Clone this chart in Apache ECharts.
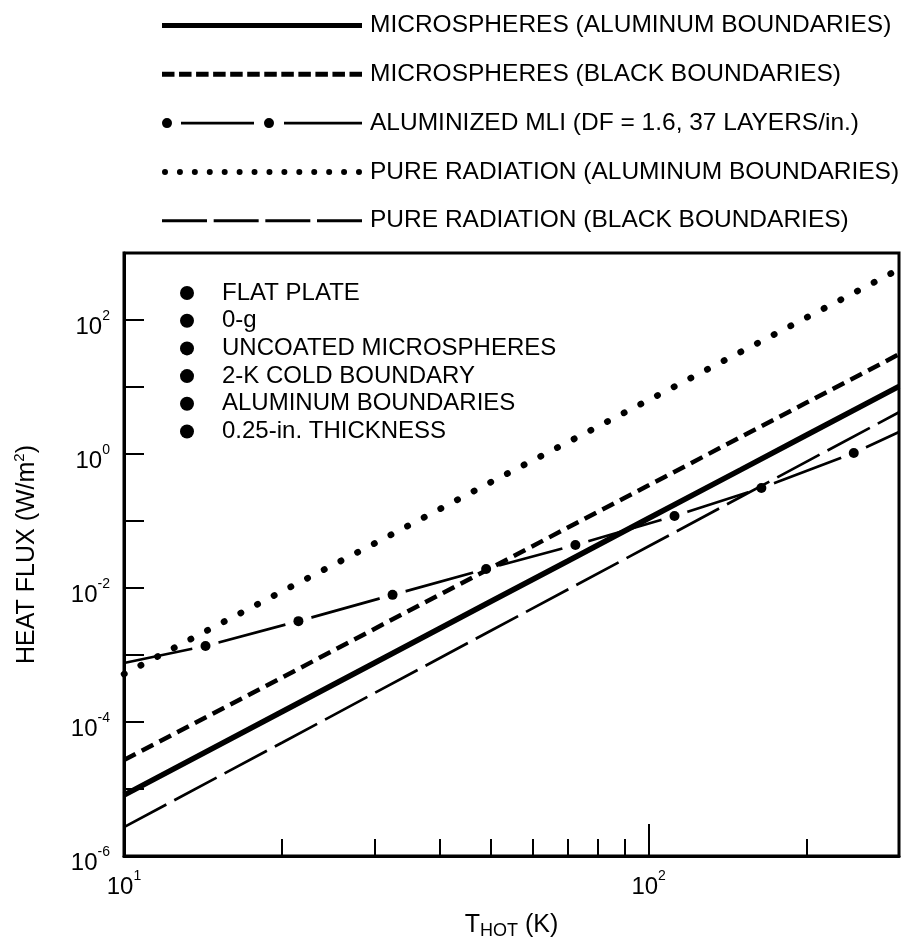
<!DOCTYPE html>
<html>
<head>
<meta charset="utf-8">
<script src="https://cdn.jsdelivr.net/npm/echarts@6/dist/echarts.min.js"></script>
<style>
  html, body { margin: 0; padding: 0; background: #fff; }
  #chart { width: 901px; height: 944px; }
</style>
</head>
<body>
<div id="chart"></div>
<script>
// Hot-boundary temperature (K) for the four power-law curves
const tempK = [10, 20, 30, 50, 70, 100, 150, 200, 300];

// Heat flux (W/m^2) at each temperature in tempK
const microspheresAl    = [8.1e-6, 1.42e-4, 7.6e-4, 6.3e-3, 0.0251, 0.110, 0.585, 1.92, 10.2];
const microspheresBlack = [2.7e-5, 4.6e-4, 2.45e-3, 0.0199, 0.079, 0.341, 1.80, 5.85, 30.8];
const radiationAl       = [5.2e-4, 8.9e-3, 0.046, 0.38, 1.49, 6.4, 33.6, 109, 571];
const radiationBlack    = [2.7e-6, 4.9e-5, 2.7e-4, 2.3e-3, 9.4e-3, 0.042, 0.23, 0.77, 4.2];

// Aluminized MLI: curve end points plus the marked points in between
const mliTempK = [10, 14.3, 21.5, 32.5, 49, 72.5, 112, 164, 246, 300];
const mliFlux  = [7.6e-4, 1.36e-3, 3.2e-3, 7.9e-3, 0.0192, 0.0439, 0.119, 0.311, 1.035, 2.13];

const seriesNames = [
  'MICROSPHERES (ALUMINUM BOUNDARIES)',
  'MICROSPHERES (BLACK BOUNDARIES)',
  'ALUMINIZED MLI (DF = 1.6, 37 LAYERS/in.)',
  'PURE RADIATION (ALUMINUM BOUNDARIES)',
  'PURE RADIATION (BLACK BOUNDARIES)'
];

const conditionNotes = [
  'FLAT PLATE',
  '0-g',
  'UNCOATED MICROSPHERES',
  '2-K COLD BOUNDARY',
  'ALUMINUM BOUNDARIES',
  '0.25-in. THICKNESS'
];

// Axis ticks and labels
const xMinorTicks = [20, 30, 40, 50, 60, 70, 80, 90, 200];
const xMajorTicks = [100];
const xLabelValues = [10, 100];
const yTickValues = [1e-5, 1e-4, 1e-3, 1e-2, 1e-1, 1, 10, 100];
const yLabelValues = [1e-6, 1e-4, 1e-2, 1, 100];

const FONT = '"Liberation Sans", Arial, Helvetica, sans-serif';

const pairs = (xs, ys) => xs.map((x, i) => [x, ys[i]]);
const markerPoints = pairs(mliTempK, mliFlux).slice(1, -1);

// Legend line samples, drawn as filled paths 200 units wide
function rect(x0, x1, y0, y1) {
  return `M${x0},${y0}L${x1},${y0}L${x1},${y1}L${x0},${y1}Z`;
}
function dot(cx, cy, r) {
  return `M${cx - r},${cy}A${r},${r} 0 1,0 ${cx + r},${cy}A${r},${r} 0 1,0 ${cx - r},${cy}Z`;
}
const iconSolid = 'path://' + rect(0, 200, 0, 5);
let shortDash = '';
for (let i = 0; i < 12; i++) shortDash += rect(i * 17.05, i * 17.05 + 12.5, 0, 5);
const iconShort = 'path://' + shortDash;
const iconMli = 'path://' + dot(5, 5, 5) + rect(19, 92, 3.6, 6.4) + dot(107, 5, 5) + rect(122, 200, 3.6, 6.4);
let dots = '';
for (let i = 0; i < 14; i++) dots += dot(3 + i * (194 / 13), 3, 3);
const iconDots = 'path://' + dots;
let longDash = '';
for (let i = 0; i < 4; i++) longDash += rect(i * 51.67, i * 51.67 + 45, 0, 3);
const iconLong = 'path://' + longDash;
const legendIcons = [iconSolid, iconShort, iconMli, iconDots, iconLong];

// Powers of ten with a raised exponent
function powLabel(value) {
  const e = Math.round(Math.log10(value));
  return '{b|10}{s|' + e + '}';
}
const labelRich = {
  b: { fontSize: 24, lineHeight: 30, fontFamily: FONT, color: '#000', verticalAlign: 'bottom' },
  s: { fontSize: 14, lineHeight: 14, fontFamily: FONT, color: '#000', verticalAlign: 'top' }
};

const chart = echarts.init(document.getElementById('chart'), null, { renderer: 'canvas' });

const option = {
  animation: false,
  backgroundColor: '#fff',
  grid: {
    left: 124, right: 2, top: 253, bottom: 88,
    show: true, borderColor: '#000', borderWidth: 3,
    containLabel: false, outerBoundsMode: 'none'
  },
  legend: {
    orient: 'vertical',
    left: 157, top: 8,
    itemWidth: 200, itemHeight: 10, itemGap: 23.8,
    selectedMode: false,
    itemStyle: { color: '#000', borderWidth: 0 },
    textStyle: { fontSize: 24.5, fontFamily: FONT, color: '#000', padding: [0, 0, 0, 3] },
    data: seriesNames.map((n, i) => ({ name: n, icon: legendIcons[i] }))
  },
  graphic: conditionNotes.flatMap((txt, i) => [
    { type: 'circle', shape: { cx: 187, cy: 293 + i * 27.7, r: 7 }, style: { fill: '#000' }, z: 10 },
    { type: 'text', x: 222, y: 293 + i * 27.7, z: 10,
      style: { text: txt, fontSize: 24, fontFamily: FONT, fill: '#000', verticalAlign: 'middle', textVerticalAlign: 'middle' } }
  ]),
  xAxis: [
    {
      type: 'log', logBase: 10, min: 10, max: 300,
      position: 'bottom',
      name: '{m|T}{sub|HOT}{m| (K)}',
      nameLocation: 'middle', nameGap: 57,
      nameTextStyle: {
        rich: {
          m: { fontSize: 25, lineHeight: 25, fontFamily: FONT, color: '#000', verticalAlign: 'top' },
          sub: { fontSize: 18, lineHeight: 18, fontFamily: FONT, color: '#000', verticalAlign: 'top', padding: [9, 0, 0, 0] }
        }
      },
      axisLine: { show: true, lineStyle: { color: '#000', width: 3 } },
      axisTick: { show: true, inside: true, length: 17, customValues: xMinorTicks, lineStyle: { color: '#000', width: 2 } },
      axisLabel: { show: true, customValues: xLabelValues, margin: 13, formatter: powLabel, rich: labelRich },
      splitLine: { show: false },
      minorTick: { show: false }
    },
    {
      type: 'log', logBase: 10, min: 10, max: 300,
      position: 'bottom',
      axisLine: { show: false },
      axisTick: { show: true, inside: true, length: 32, customValues: xMajorTicks, lineStyle: { color: '#000', width: 2 } },
      axisLabel: { show: false },
      splitLine: { show: false }
    }
  ],
  yAxis: {
    type: 'log', logBase: 10, min: 1e-6, max: 1e3,
    position: 'left',
    name: '{t|HEAT FLUX (W/m}{s|2}{t|)}',
    nameLocation: 'middle', nameGap: 84, nameRotate: 90,
    nameTextStyle: {
      rich: {
        t: { fontSize: 25, lineHeight: 28, fontFamily: FONT, color: '#000', verticalAlign: 'bottom' },
        s: { fontSize: 15, lineHeight: 15, fontFamily: FONT, color: '#000', verticalAlign: 'top' }
      }
    },
    axisLine: { show: true, lineStyle: { color: '#000', width: 3 } },
    axisTick: { show: true, inside: true, length: 20, customValues: yTickValues, lineStyle: { color: '#000', width: 2 } },
    axisLabel: { show: true, customValues: yLabelValues, margin: 14, padding: [8, 0, 0, 0], formatter: powLabel, rich: labelRich },
    splitLine: { show: false },
    minorTick: { show: false }
  },
  series: [
    {
      name: seriesNames[0], type: 'line', z: 6, symbol: 'none', silent: true,
      data: pairs(tempK, microspheresAl),
      lineStyle: { color: '#000', width: 5.5, cap: 'butt' }, itemStyle: { color: '#000' }
    },
    {
      name: seriesNames[1], type: 'line', z: 6, symbol: 'none', silent: true,
      data: pairs(tempK, microspheresBlack),
      lineStyle: { color: '#000', width: 4.5, type: [13, 7], cap: 'butt' }, itemStyle: { color: '#000' }
    },
    {
      name: seriesNames[2], type: 'line', z: 2, symbol: 'none', silent: true,
      data: pairs(mliTempK, mliFlux),
      lineStyle: { color: '#000', width: 2.7 }, itemStyle: { color: '#000' }
    },
    {
      // white halo that opens the gaps in the MLI line around each marker
      name: 'mli-gap', type: 'scatter', z: 3, silent: true,
      data: markerPoints, symbol: 'circle', symbolSize: 27,
      itemStyle: { color: '#fff', opacity: 1 }
    },
    {
      name: 'mli-marker', type: 'scatter', z: 4, silent: true,
      data: markerPoints, symbol: 'circle', symbolSize: 10,
      itemStyle: { color: '#000', opacity: 1 }
    },
    {
      name: seriesNames[3], type: 'line', z: 6, symbol: 'none', silent: true,
      data: pairs(tempK, radiationAl),
      lineStyle: { color: '#000', width: 6.5, type: [0.5, 18.3], cap: 'round' }, itemStyle: { color: '#000' }
    },
    {
      name: seriesNames[4], type: 'line', z: 6, symbol: 'none', silent: true,
      data: pairs(tempK, radiationBlack),
      lineStyle: { color: '#000', width: 2.7, type: [48, 9], cap: 'butt' }, itemStyle: { color: '#000' }
    }
  ]
};

chart.setOption(option);
</script>
</body>
</html>
